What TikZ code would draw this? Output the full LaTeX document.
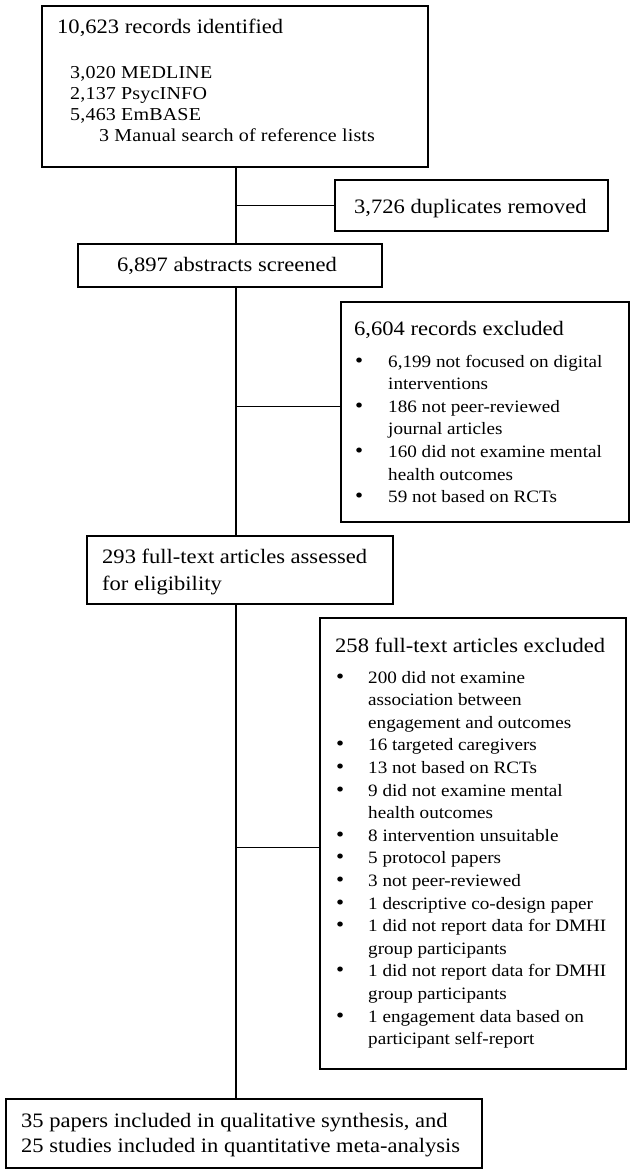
\documentclass[tikz,border=0pt]{standalone}
\usepackage{fontspec}
\setmainfont{Liberation Serif}
\newfontfamily\bigf[FakeStretch=1.1]{Liberation Serif}
\newfontfamily\identf[FakeStretch=1.1, LetterSpace=1]{Liberation Serif}
\newfontfamily\listf[FakeStretch=1.1]{Liberation Serif}
\newcommand\bul{{\fontsize{21}{21}\selectfont\textbullet}}
\begin{document}
\begin{tikzpicture}[x=1pt,y=-1pt,
  box/.style={draw=black, line width=1.6pt, inner sep=0pt, anchor=north west},
  txt/.style={inner sep=0pt, anchor=base west},
  big/.style={font=\bigf\fontsize{20.5}{27}\selectfont},
  small/.style={font=\identf\fontsize{18.2}{21.3}\selectfont},
  listt/.style={font=\listf\fontsize{17.4}{22.6}\selectfont},
  trunk/.style={line width=2.4pt},
  branch/.style={line width=1pt}]
\useasboundingbox (0,0) rectangle (636,1173);
% boxes
\node[box, minimum width=386pt, minimum height=161pt] (ident) at (41,5) {};
\node[box, minimum width=273pt, minimum height=51pt] (dup) at (334,179) {};
\node[box, minimum width=304pt, minimum height=43pt] (abs) at (77,243) {};
\node[box, minimum width=288pt, minimum height=220pt] (rex) at (340,301) {};
\node[box, minimum width=306pt, minimum height=68pt] (full) at (86,535) {};
\node[box, minimum width=306pt, minimum height=451pt] (fex) at (319,617) {};
\node[box, minimum width=476pt, minimum height=69pt] (incl) at (5,1098) {};
% texts
\node[txt, big] (identt) at (57,33) {10,623 records identified};
\node[txt, small] (identl) at (70,78) {\begin{tabular}[t]{@{}l@{}}3,020 MEDLINE\\ 2,137 PsycINFO\\ 5,463 EmBASE\\ \hspace*{29pt}3 Manual search of reference lists\end{tabular}};
\node[txt, big] (dupt) at (354,213) {3,726 duplicates removed};
\node[txt, big] (abst) at (117,271) {6,897 abstracts screened};
\node[txt, big] (rext) at (354,335) {6,604 records excluded};
\node[txt, listt] (rexl) at (355,367) {\begin{tabular}[t]{@{}p{33pt}@{}l@{}}\bul & 6,199 not focused on digital\\ & interventions\\ \bul & 186 not peer-reviewed\\ & journal articles\\ \bul & 160 did not examine mental\\ & health outcomes\\ \bul & 59 not based on RCTs\end{tabular}};
\node[txt, big] (fullt) at (102,563) {\begin{tabular}[t]{@{}l@{}}293 full-text articles assessed\\ for eligibility\end{tabular}};
\node[txt, big] (fext) at (335,652) {258 full-text articles excluded};
\node[txt, listt] (fexl) at (336,683) {\begin{tabular}[t]{@{}p{32pt}@{}l@{}}\bul & 200 did not examine\\ & association between\\ & engagement and outcomes\\ \bul & 16 targeted caregivers\\ \bul & 13 not based on RCTs\\ \bul & 9 did not examine mental\\ & health outcomes\\ \bul & 8 intervention unsuitable\\ \bul & 5 protocol papers\\ \bul & 3 not peer-reviewed\\ \bul & 1 descriptive co-design paper\\ \bul & 1 did not report data for DMHI\\ & group participants\\ \bul & 1 did not report data for DMHI\\ & group participants\\ \bul & 1 engagement data based on\\ & participant self-report\end{tabular}};
\node[txt, font=\bigf\fontsize{20.5}{25}\selectfont] (inclt) at (21,1127) {\begin{tabular}[t]{@{}l@{}}35 papers included in qualitative synthesis, and\\ 25 studies included in quantitative meta-analysis\end{tabular}};
% connectors
\coordinate (tx) at (236,0);
\coordinate (b1) at (236,205);
\coordinate (b2) at (236,406);
\coordinate (b3) at (236,847);
\draw[trunk] (ident.south -| tx) -- (abs.north -| tx);
\draw[trunk] (abs.south -| tx) -- (full.north -| tx);
\draw[trunk] (full.south -| tx) -- (incl.north -| tx);
\draw[branch] (b1) -- (b1 -| dup.west);
\draw[branch] (b2) -- (b2 -| rex.west);
\draw[branch] (b3) -- (b3 -| fex.west);
\end{tikzpicture}
\end{document}
